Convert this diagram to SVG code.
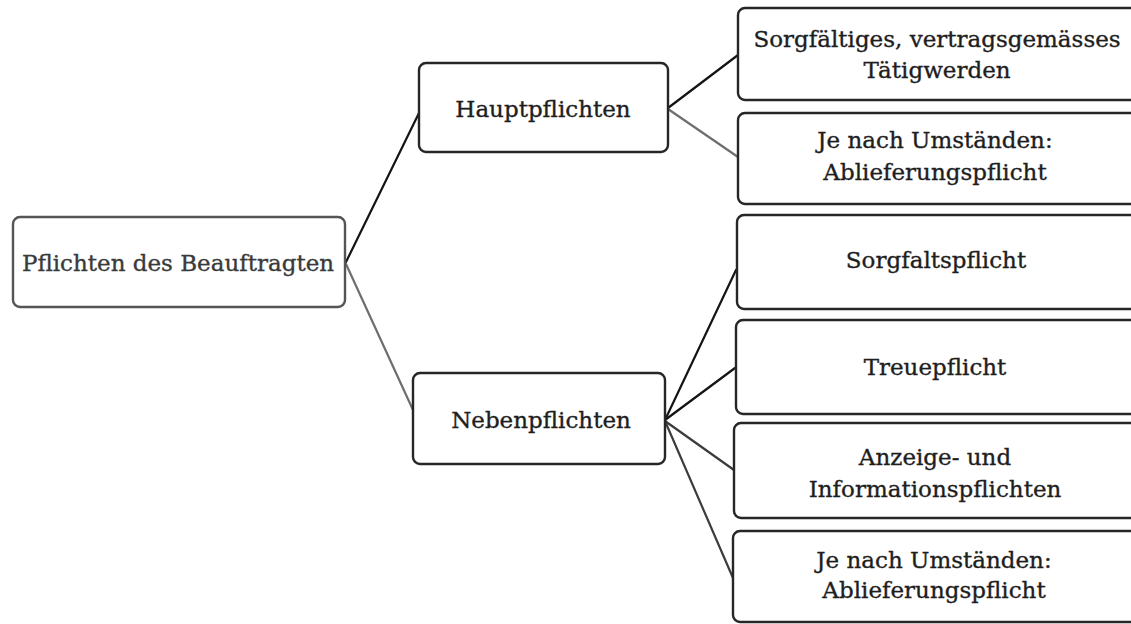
<svg xmlns="http://www.w3.org/2000/svg" width="1131" height="624" viewBox="0 0 1131 624">
  <style>
    .box { fill: #ffffff; stroke: #262626; stroke-width: 2.4; }
    .root { stroke: #555555; }
    .lbl { font-family: "DejaVu Serif", "Liberation Serif", serif; font-size: 23px; fill: #1e1e1e; stroke: #1e1e1e; stroke-width: 0.35; text-anchor: middle; }
    .rootlbl { fill: #3a3a3a; stroke: #3a3a3a; }
    .edge { fill: none; stroke-width: 2.2; stroke-linecap: round; }
    .dark { stroke: #141414; }
    .grey { stroke: #6e6e6e; }
    .mid { stroke: #3c3c3c; }
  </style>
  <rect width="1131" height="624" fill="#ffffff"/>

  <!-- connectors -->
  <g id="connectors">
    <line class="edge dark" x1="346" y1="262" x2="419" y2="113"/>
    <line class="edge grey" x1="346" y1="264" x2="413" y2="410"/>
    <line class="edge dark" x1="668" y1="108" x2="738" y2="55"/>
    <line class="edge grey" x1="668" y1="109" x2="738" y2="157"/>
    <line class="edge dark" x1="665" y1="420" x2="736" y2="270"/>
    <line class="edge dark" x1="665" y1="420" x2="735" y2="368"/>
    <line class="edge mid" x1="665" y1="421" x2="734" y2="470"/>
    <line class="edge mid" x1="665" y1="421" x2="733" y2="578"/>
  </g>

  <!-- root -->
  <g id="node-root">
    <rect class="box root" x="13" y="217" width="332" height="90" rx="7"/>
    <text class="lbl rootlbl" x="178" y="271">Pflichten des Beauftragten</text>
  </g>

  <!-- level 1 -->
  <g id="node-haupt">
    <rect class="box" x="419" y="63" width="249" height="89" rx="7"/>
    <text class="lbl" x="543" y="117">Hauptpflichten</text>
  </g>
  <g id="node-neben">
    <rect class="box" x="413" y="373" width="252" height="91" rx="7"/>
    <text class="lbl" x="541" y="428">Nebenpflichten</text>
  </g>

  <!-- level 2: main duties -->
  <g id="node-sorgfaeltiges">
    <rect class="box" x="738" y="8" width="410" height="92" rx="7"/>
    <text class="lbl" x="937" y="47">Sorgfältiges, vertragsgemässes</text>
    <text class="lbl" x="937" y="78">Tätigwerden</text>
  </g>
  <g id="node-ablieferung-1">
    <rect class="box" x="738" y="113" width="410" height="91" rx="7"/>
    <text class="lbl" x="935" y="148">Je nach Umständen:</text>
    <text class="lbl" x="935" y="180">Ablieferungspflicht</text>
  </g>

  <!-- level 2: secondary duties -->
  <g id="node-sorgfalt">
    <rect class="box" x="737" y="215" width="410" height="94" rx="7"/>
    <text class="lbl" x="936" y="268">Sorgfaltspflicht</text>
  </g>
  <g id="node-treue">
    <rect class="box" x="736" y="320" width="410" height="94" rx="7"/>
    <text class="lbl" x="935" y="375">Treuepflicht</text>
  </g>
  <g id="node-anzeige">
    <rect class="box" x="734" y="423" width="410" height="95" rx="7"/>
    <text class="lbl" x="935" y="465">Anzeige- und</text>
    <text class="lbl" x="935" y="497">Informationspflichten</text>
  </g>
  <g id="node-ablieferung-2">
    <rect class="box" x="733" y="531" width="410" height="91" rx="7"/>
    <text class="lbl" x="934" y="568">Je nach Umständen:</text>
    <text class="lbl" x="934" y="598">Ablieferungspflicht</text>
  </g>
</svg>
